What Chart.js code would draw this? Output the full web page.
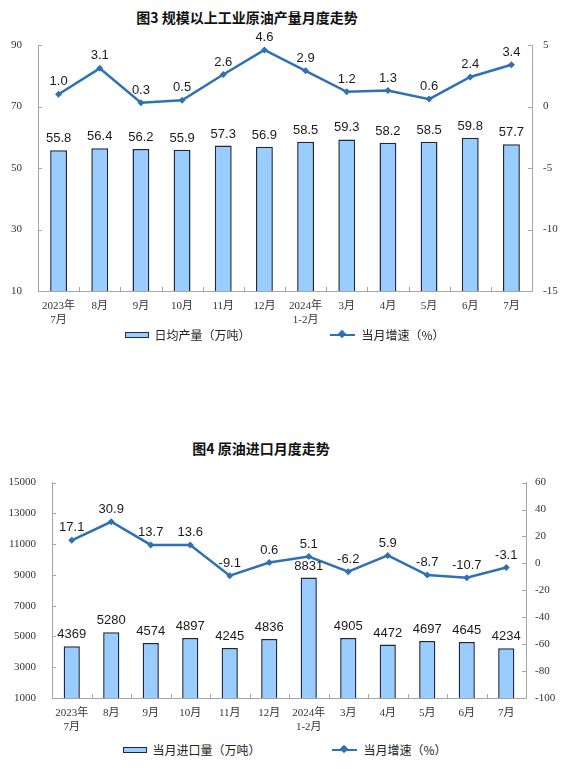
<!DOCTYPE html>
<html>
<head>
<meta charset="utf-8">
<script src="https://cdn.jsdelivr.net/npm/chart.js@4.4.1/dist/chart.umd.min.js"></script>
<style>
  body { margin: 0; background: #fff; width: 570px; height: 769px; position: relative; overflow: hidden; font-family: "Noto Sans CJK SC", sans-serif; }
  .title { position: absolute; font-size: 14px; line-height: 18px; font-weight: bold; color: #111; white-space: nowrap; transform: translateX(-50%); }
  canvas { position: absolute; left: 0; }
  .legend { position: absolute; left: 0; width: 570px; display: flex; justify-content: center; align-items: center; font-size: 12px; line-height: 18px; color: #222; }
  .legend .item { display: flex; align-items: center; }
  .legend .bar { width: 22px; height: 4px; background: #99ccff; border: 1.5px solid #1b2a41; margin-right: 5px; }
  .legend .line { position: relative; width: 25px; height: 2.5px; background: #2f71b4; margin-right: 6px; }
  .legend .line::after { content: ""; position: absolute; left: 9px; top: -2.5px; width: 6px; height: 6px; background: #2f71b4; transform: rotate(45deg); }
</style>
</head>
<body>
<div class="title" style="left:247px; top:8px;">图3 规模以上工业原油产量月度走势</div>
<canvas id="outputChart" width="570" height="330" style="top:0;"></canvas>
<div class="legend" id="outputLegend" style="top:326px; gap:80px;"></div>

<div class="title" style="left:261px; top:439px;">图4 原油进口月度走势</div>
<canvas id="importChart" width="570" height="277" style="top:460px;"></canvas>
<div class="legend" id="importLegend" style="top:741px; gap:72px;"></div>

<script>
const months = [["2023年", "7月"], "8月", "9月", "10月", "11月", "12月", ["2024年", "1-2月"], "3月", "4月", "5月", "6月", "7月"];

// 图3 规模以上工业原油产量
const dailyOutput = [55.8, 56.4, 56.2, 55.9, 57.3, 56.9, 58.5, 59.3, 58.2, 58.5, 59.8, 57.7];
const outputGrowth = [1.0, 3.1, 0.3, 0.5, 2.6, 4.6, 2.9, 1.2, 1.3, 0.6, 2.4, 3.4];
const outputTicks = [10, 30, 50, 70, 90];
const outputGrowthTicks = [-15, -10, -5, 0, 5];

// 图4 原油进口
const importVolume = [4369, 5280, 4574, 4897, 4245, 4836, 8831, 4905, 4472, 4697, 4645, 4234];
const importGrowth = [17.1, 30.9, 13.7, 13.6, -9.1, 0.6, 5.1, -6.2, 5.9, -8.7, -10.7, -3.1];
const importTicks = [1000, 3000, 5000, 7000, 9000, 11000, 13000, 15000];
const importGrowthTicks = [-100, -80, -60, -40, -20, 0, 20, 40, 60];

const barFill = "#99ccff";
const barEdge = "#1b2a41";
const lineBlue = "#2f71b4";
const axisGray = "#a6a6a6";
const serif = '"Liberation Serif", "Times New Roman", "Noto Sans CJK SC", serif';

// value labels above bars and points
const valueLabels = {
  id: "valueLabels",
  afterDatasetsDraw(chart) {
    const ctx = chart.ctx;
    ctx.save();
    ctx.font = '13px "Liberation Sans", Arial, sans-serif';
    ctx.fillStyle = "#1a1a1a";
    ctx.textAlign = "center";
    ctx.textBaseline = "bottom";
    chart.data.datasets.forEach((ds, i) => {
      const meta = chart.getDatasetMeta(i);
      meta.data.forEach((el, j) => {
        const v = ds.data[j];
        ctx.fillText(v.toFixed(ds.decimals), el.x, el.y - ds.labelGap);
      });
    });
    ctx.restore();
  }
};

// short tick marks pointing into the plot
const innerTicks = {
  id: "innerTicks",
  afterDraw(chart) {
    const ctx = chart.ctx;
    const area = chart.chartArea;
    ctx.save();
    ctx.strokeStyle = axisGray;
    ctx.lineWidth = 1;
    ctx.beginPath();
    const y = chart.scales.y, y1 = chart.scales.y1, x = chart.scales.x;
    y.ticks.forEach((t, i) => {
      const p = Math.round(y.getPixelForTick(i)) + 0.5;
      ctx.moveTo(area.left, p); ctx.lineTo(area.left + 4, p);
    });
    y1.ticks.forEach((t, i) => {
      const p = Math.round(y1.getPixelForTick(i)) + 0.5;
      ctx.moveTo(area.right, p); ctx.lineTo(area.right - 4, p);
    });
    const n = x.ticks.length;
    for (let i = 1; i < n; i++) {
      const p = Math.round((x.getPixelForValue(i - 1) + x.getPixelForValue(i)) / 2) + 0.5;
      ctx.moveTo(p, area.bottom); ctx.lineTo(p, area.bottom - 4);
    }
    ctx.stroke();
    ctx.restore();
  }
};

function makeChart(canvasId, opts) {
  const ctx = document.getElementById(canvasId).getContext("2d");
  return new Chart(ctx, {
    type: "bar",
    data: {
      labels: months,
      datasets: [
        {
          type: "line",
          label: "当月增速（%）",
          data: opts.growth,
          yAxisID: "y1",
          order: 0,
          borderColor: lineBlue,
          backgroundColor: lineBlue,
          borderWidth: 2.5,
          pointStyle: "rectRot",
          pointRadius: 3.5,
          pointBackgroundColor: lineBlue,
          pointBorderWidth: 0,
          tension: 0,
          decimals: 1,
          labelGap: 6
        },
        {
          type: "bar",
          label: opts.barLabel,
          data: opts.bars,
          yAxisID: "y",
          order: 1,
          backgroundColor: barFill,
          borderColor: barEdge,
          borderWidth: 1.5,
          borderSkipped: false,
          barPercentage: 0.41,
          categoryPercentage: 1,
          decimals: opts.barDecimals,
          labelGap: 5
        }
      ]
    },
    options: {
      responsive: false,
      animation: false,
      layout: { padding: { top: opts.padTop, left: 0, right: 0, bottom: 0 } },
      plugins: { legend: { display: false }, tooltip: { enabled: false }, title: { display: false } },
      scales: {
        x: {
          grid: { display: true, drawOnChartArea: false, drawTicks: false },
          border: { color: axisGray, width: 1 },
          ticks: { color: "#333", font: { family: serif, size: 11 }, padding: 9, maxRotation: 0, autoSkip: false },
          afterFit: s => { s.height = 39; }
        },
        y: {
          position: "left",
          min: opts.leftTicks[0],
          max: opts.leftTicks[opts.leftTicks.length - 1],
          ticks: {
            stepSize: opts.leftTicks[1] - opts.leftTicks[0],
            color: "#333",
            font: { family: serif, size: 11 },
            padding: opts.leftPad,
            callback: v => String(v)
          },
          grid: { display: true, drawOnChartArea: false, drawTicks: false },
          border: { color: axisGray, width: 1 },
          afterFit: s => { s.width = opts.leftWidth; }
        },
        y1: {
          position: "right",
          min: opts.rightTicks[0],
          max: opts.rightTicks[opts.rightTicks.length - 1],
          ticks: {
            stepSize: opts.rightTicks[1] - opts.rightTicks[0],
            color: "#333",
            font: { family: serif, size: 11 },
            padding: opts.rightPad,
            callback: v => String(v)
          },
          grid: { display: true, drawOnChartArea: false, drawTicks: false },
          border: { color: axisGray, width: 1 },
          afterFit: s => { s.width = opts.rightWidth; }
        }
      }
    },
    plugins: [valueLabels, innerTicks]
  });
}

function buildLegend(elId, chart) {
  const box = document.getElementById(elId);
  // bar first, then line, as in the original
  const items = chart.data.datasets.slice().reverse();
  items.forEach(ds => {
    const item = document.createElement("div");
    item.className = "item";
    const icon = document.createElement("span");
    icon.className = ds.type === "bar" ? "bar" : "line";
    const text = document.createElement("span");
    text.textContent = ds.label;
    item.appendChild(icon);
    item.appendChild(text);
    box.appendChild(item);
  });
}

const outputChart = makeChart("outputChart", {
  bars: dailyOutput, growth: outputGrowth, barLabel: "日均产量（万吨）", barDecimals: 1,
  leftTicks: outputTicks, rightTicks: outputGrowthTicks,
  padTop: 45, leftWidth: 38, rightWidth: 38, leftPad: 16, rightPad: 11
});
buildLegend("outputLegend", outputChart);

const importChart = makeChart("importChart", {
  bars: importVolume, growth: importGrowth, barLabel: "当月进口量（万吨）", barDecimals: 0,
  leftTicks: importTicks, rightTicks: importGrowthTicks,
  padTop: 16, leftWidth: 52, rightWidth: 44, leftPad: 16, rightPad: 9
});
buildLegend("importLegend", importChart);
</script>
</body>
</html>
